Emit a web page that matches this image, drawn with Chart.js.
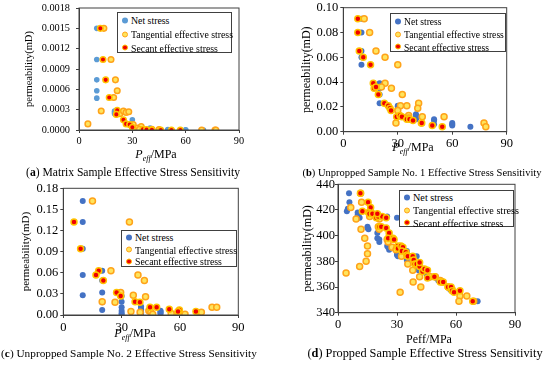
<!DOCTYPE html>
<html>
<head>
<meta charset="utf-8">
<script src="https://cdn.jsdelivr.net/npm/chart.js@4.4.1/dist/chart.umd.min.js"></script>
<style>
  body { margin: 0; background: #fff; }
  #wrap { position: relative; width: 550px; height: 365px; overflow: hidden; font-family: "Liberation Serif", "Times New Roman", serif; color: #000; }
  canvas { position: absolute; }
  .cap, .xt { position: absolute; white-space: nowrap; transform: translate(-50%, -50%); }
  .xt { font-size: 12px; }
  .xt sub { font-size: 8px; }
  .leg { position: absolute; border: 1px solid #404040; background: #fff; box-sizing: border-box; }
  .row { position: absolute; left: 0; white-space: nowrap; transform: translateY(-50%); display: flex; align-items: center; }
  .dot { display: inline-block; width: 6px; height: 6px; border-radius: 50%; box-sizing: border-box; margin-right: 3px; }
</style>
</head>
<body>
<div id="wrap">
  <canvas id="ca" width="275" height="150" style="left:0;top:0"></canvas>
  <canvas id="cb" width="275" height="150" style="left:275px;top:0"></canvas>
  <canvas id="cc" width="275" height="155" style="left:0;top:180px"></canvas>
  <canvas id="cd" width="275" height="160" style="left:275px;top:175px"></canvas>

  <div class="xt" style="left:156px;top:155px"><i>P</i><sub><i>eff</i></sub>/MPa</div>
  <div class="xt" style="left:413px;top:148px"><i>P</i><sub><i>eff</i></sub>/MPa</div>
  <div class="xt" style="left:135px;top:334px"><i>P</i><sub><i>eff</i></sub>/MPa</div>
  <div class="xt" style="left:429px;top:339px">Peff/MPa</div>

  <div class="cap" style="left:133px;top:172px;font-size:11.6px">(<b>a</b>) Matrix Sample Effective Stress Sensitivity</div>
  <div class="cap" style="left:422px;top:172px;font-size:10.5px">(<b>b</b>) Unpropped Sample No. 1 Effective Stress Sensitivity</div>
  <div class="cap" style="left:129px;top:353px;font-size:11.3px">(<b>c</b>) Unpropped Sample No. 2 Effective Stress Sensitivity</div>
  <div class="cap" style="left:425px;top:353px;font-size:12.3px">(<b>d</b>) Propped Sample Effective Stress Sensitivity</div>
</div>

<script>
// series names
const seriesNames = ["Net stress", "Tangential effective stress", "Secant effective stress"];

// x ticks shared by all panels (MPa)
const xTicks = [0, 30, 60, 90];

// (a) matrix sample
const aYTicks = [0, 0.0003, 0.0006, 0.0009, 0.0012, 0.0015, 0.0018];
const aNet = [[10,0.0015],[10,0.00104],[10,0.00074],[10,0.00058],[10,0.00047],[20,0.00028],[20,0.00026],[20,0.00024],[21,0.00027],[30,0.00015],[30,0.00005],[40,0.00003],[40,0.00001],[50,0.000008],[50,0.000002],[60,0.000004],[60,0],[70,0]];
const aTan = [[14,0.0015],[18,0.00104],[20.5,0.00074],[21.5,0.00058],[19.5,0.00048],[12.5,0.00028],[5,0.00009],[23,0.00024],[25,0.00028],[26.5,0.00026],[28,0.00027],[30.5,0.00008],[33,0.00003],[35,0.00005],[34,0.00001],[41,0.00001],[45,0.000005],[69,0],[76.5,0],[77,0]];
const aSec = [[12,0.0015],[13.5,0.00104],[15,0.00074],[17,0.00048],[21.5,0.00029],[21,0.00023],[25,0.00015],[26.5,0.00009],[28.5,0.00008],[30,0.00004],[36,0.00001],[38,0.000005],[41,0.000003],[46,0],[52,0],[57,0]];

// (b) unpropped sample no. 1
const bYTicks = [0, 0.02, 0.04, 0.06, 0.08, 0.10];
const bNet = [[10,0.091],[10,0.080],[10,0.065],[10,0.060],[10,0.054],[20,0.039],[20,0.037],[20,0.035],[20,0.030],[20,0.023],[30,0.021],[30,0.020],[30,0.018],[30,0.013],[30,0.012],[40,0.014],[40,0.013],[40,0.011],[40,0.010],[50,0.010],[50,0.009],[50,0.006],[60,0.007],[60,0.006],[60,0.005],[70,0.004]];
const bTan = [[11.5,0.091],[14.5,0.080],[18,0.065],[23,0.060],[30,0.054],[23,0.039],[21,0.036],[26.5,0.035],[32.5,0.030],[41.5,0.023],[41,0.019],[31.5,0.021],[35,0.021],[30,0.017],[36,0.013],[36,0.011],[43.5,0.012],[29,0.007],[43,0.007],[55.5,0.012],[77.5,0.007],[78.5,0.004]];
const bSec = [[8,0.091],[8,0.080],[8.8,0.065],[11,0.060],[15,0.054],[16.5,0.039],[17,0.035],[18,0.036],[19.3,0.030],[22.6,0.023],[24.8,0.021],[25.7,0.019],[26.3,0.017],[29.4,0.012],[31.2,0.013],[32.3,0.012],[35,0.010],[36.5,0.010],[38.4,0.009],[43.2,0.007],[49,0.005],[54.5,0.004]];

// (c) unpropped sample no. 2
const cYTicks = [0, 0.03, 0.06, 0.09, 0.12, 0.15, 0.18];
const cNet = [[10,0.162],[10,0.132],[10,0.094],[10,0.057],[10,0.028],[20,0.063],[20,0.049],[20,0.032],[20,0.018],[20,0.007],[30,0.027],[30,0.019],[30,0.011],[30,0.006],[30,0.003],[30,0.001],[40,0.012],[40,0.010],[40,0.008],[40,0.006],[40,0.004],[40,0.002],[50,0.006],[50,0.005],[50,0.003],[50,0.002],[60,0.004],[60,0.002],[70,0.003]];
const cTan = [[15,0.162],[34,0.132],[24.5,0.063],[38.4,0.057],[41.7,0.049],[29.5,0.032],[36,0.028],[42.3,0.026],[26.6,0.018],[20,0.019],[34.8,0.005],[39.5,0.004],[44,0.006],[45,0.004],[46,0.001],[55.5,0.002],[59,0.003],[62.6,0.001],[71,0.004],[76.5,0.011],[78.9,0.011]];
const cSec = [[5.5,0.132],[8.9,0.094],[18.2,0.063],[16.8,0.057],[20.6,0.049],[27.4,0.032],[29.5,0.027],[36.9,0.019],[39.4,0.018],[44.6,0.011],[48,0.011],[54.5,0.008],[59.7,0.007],[59,0.005],[68.2,0.005]];

// (d) propped sample
const dYTicks = [340, 360, 380, 400, 420, 440];
const dNet = [[5.6,433],[5.8,426],[5,421],[4.5,419],[10,418],[10,416],[11,414],[10.5,417],[15,407],[15,406],[15.5,405],[20,402],[20,398],[21,397],[21,395],[25,415],[25,392],[25.5,391],[26,389],[30,414],[30,386],[30,385],[30.5,384],[35,388],[35,381],[35.5,378],[40,384],[40,376],[41,374],[41,373],[45,370],[46,368],[46,367],[50,367],[51,365],[52,364],[56,360],[57,358],[58,357],[62,357],[62,355],[71,349]];
const dTan = [[11.5,433],[12,426],[6.5,422],[9.2,413],[11.7,405],[13.6,398],[15,392],[15,386],[14.3,380],[11,376],[4.1,371],[16.1,415],[16.8,418],[20,416],[21,413],[20.5,407],[21,405],[25,397],[25.5,395],[27.5,391],[30,391],[29.5,389],[32.3,384],[35.5,378],[38,373],[38.2,364],[41.5,368],[42.1,360],[31.6,356],[43.5,373],[47,368],[49.5,368],[52,365],[53,364],[56,360],[58,358],[62,353],[61.5,349],[65.5,353],[69,349]];
const dSec = [[11.4,433],[15.3,426],[16.6,422],[12.4,419],[15.5,418],[16,417],[17.5,417],[19.5,414],[20.5,415],[22.5,415],[24.5,414],[20,417],[21,407],[22,407],[24.5,406],[26,402],[25.5,398],[28,398],[28.5,397],[30.5,392],[30.5,390],[32,392],[33,391],[32.5,388],[34.5,387],[35,385],[35.5,384],[38,384],[38.5,381],[39,378],[40,378],[41.5,376],[41.5,379],[43,372],[44,374],[45.5,373],[45.5,367],[49,368],[52,364],[53.5,364],[56,360],[57.5,360],[58,357],[59,356],[62,357],[68.5,349]];

const FONT = '"Liberation Serif", "Times New Roman", serif';
const AXIS = "#404040";

// draws the top and right sides of the plot frame
const framePlugin = {
  id: "frame",
  afterDraw(chart) {
    const { ctx, chartArea: a } = chart;
    ctx.save();
    ctx.strokeStyle = AXIS;
    ctx.lineWidth = 1;
    ctx.strokeRect(a.left, a.top, a.right - a.left, a.bottom - a.top);
    ctx.restore();
  },
};

const toPts = (arr) => arr.map(([x, y]) => ({ x, y }));

function makePanel(id, p) {
  const r = p.radius || 3;
  const datasets = [
    { label: seriesNames[0], data: toPts(p.net), backgroundColor: p.blue, borderColor: p.blue, borderWidth: 0, pointRadius: r, order: 3 },
    { label: seriesNames[1], data: toPts(p.tan), backgroundColor: "#FFE45C", borderColor: "#FFA31A", borderWidth: 1.5, pointRadius: r, order: 2 },
    { label: seriesNames[2], data: toPts(p.sec), backgroundColor: "#F00000", borderColor: "#FFC400", borderWidth: 1.5, pointRadius: r, order: 1 },
  ];
  const yt = p.yTicks;
  new Chart(document.getElementById(id), {
    type: "scatter",
    data: { datasets },
    plugins: [framePlugin],
    options: {
      responsive: false,
      animation: false,
      devicePixelRatio: 1,
      layout: { padding: p.pad },
      plugins: { legend: { display: false }, tooltip: { enabled: false } },
      scales: {
        x: {
          type: "linear",
          min: xTicks[0],
          max: xTicks[xTicks.length - 1],
          afterBuildTicks: (s) => { s.ticks = xTicks.map((v) => ({ value: v })); },
          ticks: { color: "#000", font: { family: FONT, size: p.tickSize }, padding: 2 },
          grid: { display: true, drawOnChartArea: false, tickLength: 3, color: AXIS },
          border: { color: AXIS },
          afterFit: (s) => { s.height = p.xHeight; s.paddingLeft = 0; s.paddingRight = 0; },
        },
        y: {
          min: yt[0],
          max: yt[yt.length - 1],
          afterBuildTicks: (s) => { s.ticks = yt.map((v) => ({ value: v })); },
          ticks: {
            color: "#000",
            font: { family: FONT, size: p.tickSize },
            padding: p.tickPad,
            callback: (v) => v.toFixed(p.decimals),
          },
          grid: { display: true, drawOnChartArea: false, tickLength: 3, color: AXIS },
          border: { color: AXIS },
          title: { display: true, text: "permeability(mD)", color: "#000", font: { family: FONT, size: p.titleSize }, padding: 0 },
          afterFit: (s) => { s.width = p.yWidth; s.paddingTop = 0; s.paddingBottom = 0; },
        },
      },
    },
  });
}

makePanel("ca", { net: aNet, tan: aTan, sec: aSec, yTicks: aYTicks, decimals: 4, blue: "#5B9BD5", radius: 2.8, tickPad: 6,
  pad: { left: 23.4, top: 8, right: 36, bottom: 0 }, yWidth: 55.6, xHeight: 20, tickSize: 10.3, titleSize: 10.5 });
makePanel("cb", { net: bNet, tan: bTan, sec: bSec, yTicks: bYTicks, decimals: 2, blue: "#4472C4", tickPad: 2,
  pad: { left: 25, top: 7.7, right: 43.3, bottom: 0 }, yWidth: 43.3, xHeight: 18.3, tickSize: 12.5, titleSize: 12 });
makePanel("cc", { net: cNet, tan: cTan, sec: cSec, yTicks: cYTicks, decimals: 2, blue: "#4472C4", tickPad: 2,
  pad: { left: 20, top: 8.3, right: 36.7, bottom: 0 }, yWidth: 43.3, xHeight: 20, tickSize: 12.5, titleSize: 11 });
makePanel("cd", { net: dNet, tan: dTan, sec: dSec, yTicks: dYTicks, decimals: 0, blue: "#4472C4", tickPad: 0,
  pad: { left: 25.4, top: 9.3, right: 35, bottom: 0 }, yWidth: 37.6, xHeight: 22.3, tickSize: 12.5, titleSize: 12 });

// legends in boxes over the plot areas
const legendBoxes = [
  { left: 117, top: 12, width: 115, height: 41, rows: [7, 21, 34.5], blue: "#5B9BD5", size: 9.8 },
  { left: 390, top: 13, width: 116, height: 39, rows: [7, 20, 32.5], blue: "#4472C4", size: 9.6 },
  { left: 121, top: 230, width: 116, height: 37, rows: [6, 18.5, 30], blue: "#4472C4", size: 9.8 },
  { left: 399, top: 190, width: 115, height: 37, rows: [6, 19, 31.5], blue: "#4472C4", size: 10.2 },
];
const wrap = document.getElementById("wrap");
legendBoxes.forEach((lb) => {
  const box = document.createElement("div");
  box.className = "leg";
  box.style.cssText = `left:${lb.left}px;top:${lb.top}px;width:${lb.width}px;height:${lb.height}px;`;
  const dots = [
    `background:${lb.blue};`,
    "background:#FFE45C;border:1.5px solid #FFA31A;",
    "background:#F00000;border:1.5px solid #FFC400;",
  ];
  seriesNames.forEach((name, i) => {
    box.innerHTML += `<div class="row" style="top:${lb.rows[i]}px;left:4px;font-size:${lb.size}px"><span class="dot" style="${dots[i]}"></span>${name}</div>`;
  });
  wrap.appendChild(box);
});
</script>
</body>
</html>
